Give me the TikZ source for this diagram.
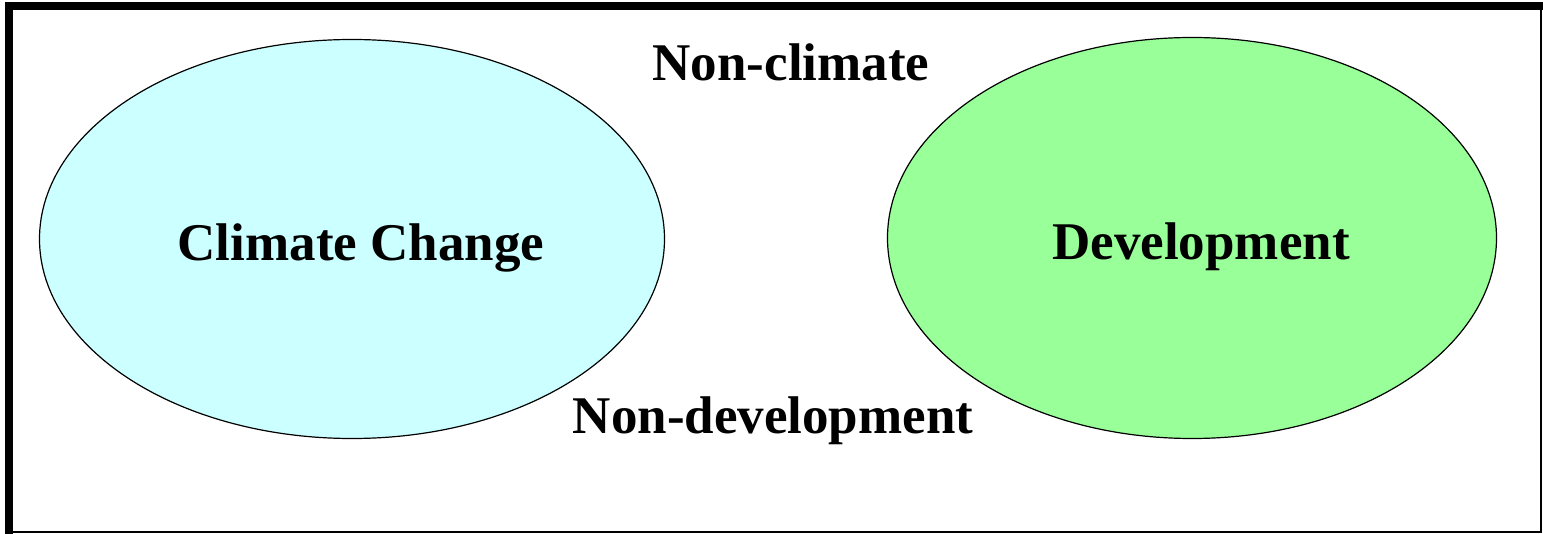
\documentclass[tikz,border=0pt]{standalone}
\usepackage{fontspec}
\setmainfont{Liberation Serif}
\usetikzlibrary{shapes.geometric}
\definecolor{climatecyan}{HTML}{CCFFFF}
\definecolor{devgreen}{HTML}{99FF99}
\tikzset{
    oval/.style={ellipse,draw=black,line width=1.2pt,inner sep=0pt},
    lbl/.style={anchor=base,inner sep=0pt,font=\bfseries\fontsize{53}{60}\selectfont}
}
\begin{document}
\begin{tikzpicture}[x=1pt,y=-1pt]
        \useasboundingbox (0,0) rectangle (1543,534);
        \draw[line width=8pt] (9,534) -- (9,6) -- (1543,6);
        \draw[line width=2.5pt] (1541,10) -- (1541,532) -- (13,532);
        \node[oval,fill=climatecyan,minimum width=625pt,minimum height=399pt] (ccoval) at (352,239) {};
        \node[oval,fill=devgreen,minimum width=609pt,minimum height=401pt] (devoval) at (1192,238) {};
        \node[lbl] (cc) at (361,261) {Climate Change};
        \node[lbl] (dev) at (1201,260) {Development};
        \node[lbl] (nonclim) at (791,81) {Non-climate};
        \node[lbl] (nondev) at (773,434) {Non-development};
    \end{tikzpicture}
\end{document}
